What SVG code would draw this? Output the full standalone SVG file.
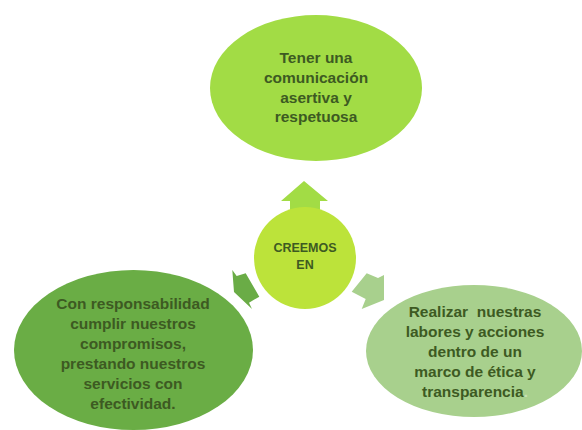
<svg xmlns="http://www.w3.org/2000/svg" width="582" height="430" viewBox="0 0 582 430">
<style>
.t{font-family:"Liberation Sans",Arial,sans-serif;font-weight:bold;font-size:15.5px;fill:#3d5a22;text-anchor:middle}
.c{font-size:12.5px}
</style>
<rect width="582" height="430" fill="#ffffff"/>
<g id="connectors">
<polygon id="arrow-up" points="304,181 328,201 320,201 320,222 290,222 290,201 281,201" fill="#a2dc45"/>
<polygon id="arrow-left" points="232.3,270 236.7,276 245.7,273.3 259.3,296.7 249,302.7 252,309 234,292" fill="#6aac46"/>
<polygon id="arrow-right" points="366.7,273.3 378,278 384,275 384,300 361.7,309 365.7,299 351.7,291.7" fill="#a8d08d"/>
</g>
<g id="node-top">
<ellipse cx="316" cy="88" rx="106" ry="73" fill="#a2dc45"/>
<text class="t" x="316" y="63">Tener una</text>
<text class="t" x="316" y="83">comunicación</text>
<text class="t" x="316" y="102.5">asertiva y</text>
<text class="t" x="316" y="122">respetuosa</text>
</g>
<g id="node-center">
<circle cx="305" cy="258" r="51" fill="#bce33a"/>
<text class="t c" x="305" y="252">CREEMOS</text>
<text class="t c" x="305" y="269">EN</text>
</g>
<g id="node-left">
<ellipse cx="133.5" cy="350" rx="119.5" ry="80" fill="#6aad45"/>
<text class="t" x="133" y="309">Con responsabilidad</text>
<text class="t" x="133" y="329">cumplir nuestros</text>
<text class="t" x="133" y="349">compromisos,</text>
<text class="t" x="133" y="369">prestando nuestros</text>
<text class="t" x="133" y="389">servicios con</text>
<text class="t" x="133" y="409">efectividad.</text>
</g>
<g id="node-right">
<ellipse cx="474" cy="351" rx="108" ry="66" fill="#a8d08d"/>
<text class="t" x="475" y="316.5" xml:space="preserve">Realizar  nuestras</text>
<text class="t" x="475" y="336.5">labores y acciones</text>
<text class="t" x="475" y="356.5">dentro de un</text>
<text class="t" x="475" y="376.5">marco de ética y</text>
<text class="t" x="475" y="396.5">transparencia<tspan fill="#c8e0b8">.</tspan></text>
</g>
</svg>
